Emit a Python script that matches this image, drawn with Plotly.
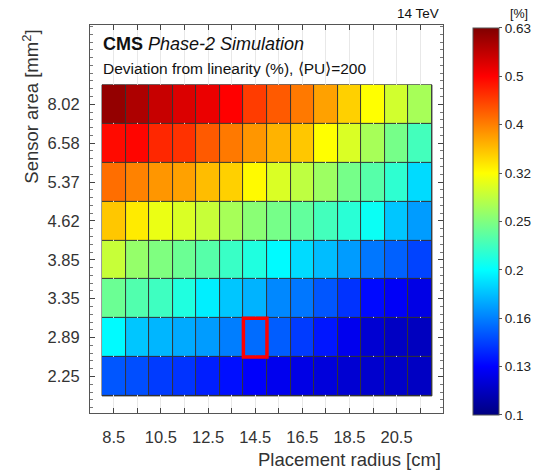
import numpy as np
import plotly.graph_objects as go

# ---------------- data ----------------
radius_cm = [8.5, 9.5, 10.5, 11.5, 12.5, 13.5, 14.5, 15.5, 16.5, 17.5, 18.5, 19.5, 20.5, 21.5]
area_labels = ["2.25", "2.89", "3.35", "3.85", "4.62", "5.37", "6.58", "8.02"]

# deviation from linearity (%) ; rows bottom (2.25) -> top (8.02)
dev_2_25 = [0.147, 0.145, 0.140, 0.138, 0.133, 0.129, 0.125, 0.122, 0.120, 0.118, 0.116, 0.115, 0.114, 0.113]
dev_2_89 = [0.198, 0.180, 0.175, 0.171, 0.167, 0.158, 0.153, 0.149, 0.140, 0.131, 0.122, 0.116, 0.113, 0.112]
dev_3_35 = [0.242, 0.231, 0.223, 0.211, 0.194, 0.180, 0.174, 0.161, 0.156, 0.147, 0.138, 0.128, 0.124, 0.120]
dev_3_85 = [0.286, 0.261, 0.251, 0.242, 0.233, 0.221, 0.211, 0.198, 0.187, 0.177, 0.167, 0.156, 0.150, 0.142]
dev_4_62 = [0.350, 0.328, 0.305, 0.296, 0.286, 0.270, 0.256, 0.247, 0.238, 0.225, 0.215, 0.203, 0.180, 0.167]
dev_5_37 = [0.411, 0.396, 0.382, 0.375, 0.356, 0.344, 0.319, 0.296, 0.281, 0.265, 0.247, 0.233, 0.217, 0.187]
dev_6_58 = [0.492, 0.497, 0.467, 0.458, 0.426, 0.403, 0.382, 0.363, 0.350, 0.316, 0.296, 0.270, 0.247, 0.225]
dev_8_02 = [0.608, 0.581, 0.555, 0.535, 0.520, 0.501, 0.450, 0.426, 0.403, 0.375, 0.344, 0.316, 0.291, 0.270]

highlight_radius = 14.5
highlight_area = "2.89"

cbar_labels = ["0.1", "0.13", "0.16", "0.2", "0.25", "0.32", "0.4", "0.5", "0.63"]
x_tick_labels = ["8.5", "", "10.5", "", "12.5", "", "14.5", "", "16.5", "", "18.5", "", "20.5", ""]

# ---------------- figure ----------------
rows = [dev_2_25, dev_2_89, dev_3_35, dev_3_85, dev_4_62, dev_5_37, dev_6_58, dev_8_02]
z = np.log10(np.array(rows))
yidx = list(range(len(area_labels)))

jet = [[0.0, "rgb(0,0,128)"], [0.125, "rgb(0,0,255)"], [0.375, "rgb(0,255,255)"],
       [0.625, "rgb(255,255,0)"], [0.875, "rgb(255,0,0)"], [1.0, "rgb(128,0,0)"]]

FONT = "Liberation Sans, Arial, Helvetica, sans-serif"

fig = go.Figure()
fig.add_trace(go.Heatmap(
    x=radius_cm, y=yidx, z=z, zmin=-1.0, zmax=-0.2,
    colorscale=jet, xgap=1, ygap=1,
    colorbar=dict(
        x=1.085, xanchor="left", y=0.4936, yanchor="middle",
        len=387 / 388, lenmode="fraction", thickness=26, ypad=0, xpad=0,
        outlinecolor="#555", outlinewidth=1,
        tickmode="array", tickvals=list(np.linspace(-1.0, -0.2, 9)), ticktext=cbar_labels,
        ticks="outside", ticklen=3, tickcolor="#555",
        tickfont=dict(family=FONT, size=13.5, color="#222"),
    ),
    hoverinfo="skip",
))

x0 = radius_cm[0] - 0.5
x1 = radius_cm[-1] + 0.5
shapes = [
    dict(type="rect", xref="x", yref="y", x0=x0, x1=x1, y0=-0.5, y1=len(area_labels) - 0.5,
         fillcolor="#333", line=dict(color="#333", width=1), layer="below"),
]
hy = area_labels.index(highlight_area)
shapes.append(dict(type="rect", xref="x", yref="y",
                   x0=highlight_radius - 0.5, x1=highlight_radius + 0.5,
                   y0=hy - 0.5, y1=hy + 0.5,
                   line=dict(color="#ff0000", width=3.5), fillcolor="rgba(0,0,0,0)"))

annotations = [
    dict(xref="paper", yref="paper", x=0.03, y=0.95, xanchor="left", yanchor="middle",
         text="<b>CMS</b> <i>Phase-2 Simulation</i>", showarrow=False,
         font=dict(family=FONT, size=18, color="#111")),
    dict(xref="paper", yref="paper", x=0.03, y=0.888, xanchor="left", yanchor="middle",
         text="Deviation from linearity (%), \u27e8PU\u27e9=200", showarrow=False,
         font=dict(family=FONT, size=15.5, color="#111")),
    dict(xref="paper", yref="paper", x=0.995, y=1.0, xanchor="right", yanchor="bottom",
         yshift=2, text="14 TeV", showarrow=False,
         font=dict(family=FONT, size=13.5, color="#111")),
    dict(xref="paper", yref="paper", x=1.215, y=1.0, xanchor="center", yanchor="bottom",
         yshift=2, text="[%]", showarrow=False,
         font=dict(family=FONT, size=12.5, color="#111")),
    dict(xref="paper", yref="paper", x=1.0, y=-0.12, xanchor="right", yanchor="middle",
         text="Placement radius [cm]", showarrow=False,
         font=dict(family=FONT, size=18.5, color="#333")),
    dict(xref="paper", yref="paper", x=-0.168, y=1.0, xanchor="center", yanchor="top",
         yshift=-3, textangle=-90,
         text="Sensor area [mm<sup>2</sup>]", showarrow=False,
         font=dict(family=FONT, size=18.5, color="#333")),
]

fig.update_layout(
    width=537, height=470,
    margin=dict(l=90, r=94, t=25, b=57, autoexpand=False),
    paper_bgcolor="white", plot_bgcolor="white",
    font=dict(family=FONT, color="#333"),
    shapes=shapes, annotations=annotations,
    showlegend=False,
)
fig.update_xaxes(
    range=[7.49, 22.47], tickmode="array", tickvals=radius_cm, ticktext=x_tick_labels,
    ticks="inside", ticklen=5, tickcolor="#444", showline=True, linecolor="#555", linewidth=1,
    mirror="ticks", showgrid=True, gridcolor="#e8e8e8", gridwidth=1, zeroline=False,
    tickfont=dict(family=FONT, size=16.5, color="#333"), ticklabelstandoff=9,
)
fig.update_yaxes(
    range=[-0.94, 9.04], tickmode="array", tickvals=yidx, ticktext=area_labels,
    ticks="inside", ticklen=5, tickcolor="#444", showline=True, linecolor="#555", linewidth=1,
    mirror="ticks", showgrid=False, zeroline=False,
    minor=dict(ticks="inside", ticklen=3, tickcolor="#777", dtick=0.2, tick0=0, showgrid=False),
    tickfont=dict(family=FONT, size=16.5, color="#333"), ticklabelstandoff=6,
)

fig.write_html("out.html")
